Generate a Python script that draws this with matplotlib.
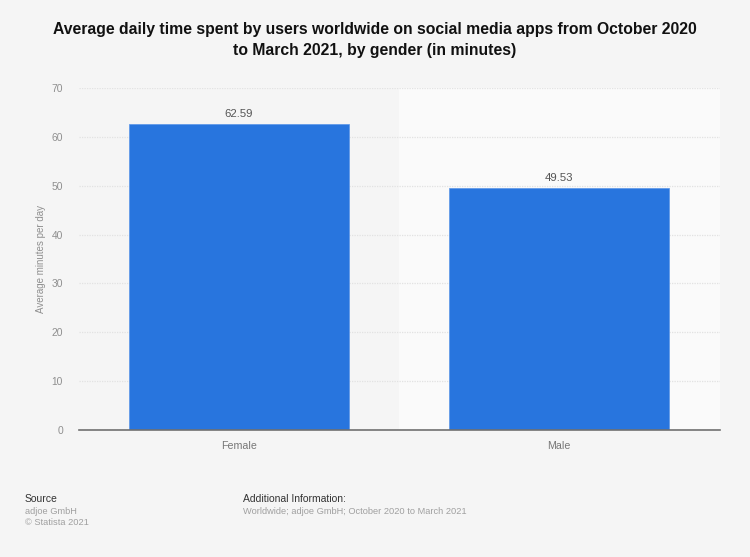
import matplotlib
matplotlib.use("Agg")
import matplotlib.pyplot as plt

categories = ["Female", "Male"]
minutes = [62.59, 49.53]
yticks = [0, 10, 20, 30, 40, 50, 60, 70]

TITLE = ("Average daily time spent by users worldwide on social media apps from October 2020\n"
         "to March 2021, by gender (in minutes)")

plt.rcParams["font.family"] = ["Liberation Sans", "DejaVu Sans"]

W, H = 750, 557
fig = plt.figure(figsize=(W / 100, H / 100), dpi=100, facecolor="#f5f5f5")
ax = fig.add_axes([79 / W, (H - 430) / H, 641 / W, 342 / H], facecolor="#f5f5f5")

positions = range(len(categories))
ax.set_xlim(-0.5, 1.503)
ax.set_ylim(0, 70)

# lighter band behind the second category
ax.axvspan(0.5, 1.503, color="#fafafa", lw=0, zorder=0)
ax.yaxis.grid(True, color="#e2e2e2", lw=0.9, ls=(0, (1, 1)), zorder=1)
ax.set_axisbelow(True)

ax.bar(positions, minutes, width=0.6875, color="#2875de", edgecolor="#5a95e8",
       linewidth=0.5, zorder=2)
for x, v in zip(positions, minutes):
    ax.annotate(f"{v:.2f}", (x, v), xytext=(0, 3.4), textcoords="offset points",
                ha="center", va="bottom", fontsize=8.2, color="#555555")

for side in ["top", "right", "left"]:
    ax.spines[side].set_visible(False)
ax.spines["bottom"].set_color("#707070")
ax.spines["bottom"].set_linewidth(1.2)
ax.spines["bottom"].set_zorder(3)

ax.set_xticks(list(positions), categories)
ax.set_yticks(yticks)
ax.tick_params(axis="x", length=0, pad=7.7, labelsize=7.7, labelcolor="#777777")
ax.tick_params(axis="y", length=0, pad=11.5, labelsize=7.4, labelcolor="#8f8f8f")
ax.set_ylabel("Average minutes per day", fontsize=7.0, color="#8f8f8f")
ax.yaxis.set_label_coords((46.5 - 79) / 641, 0.5)

fig.text(374.5 / W, 1 - 40 / H, TITLE, ha="center", va="center", fontsize=11.33,
         fontweight="bold", color="#111111", linespacing=1.55)

fig.text(25 / W, 1 - 499 / H, "Source", fontsize=7.5, color="#333333", va="center")
fig.text(25 / W, 1 - 511 / H, "adjoe GmbH", fontsize=6.7, color="#a0a0a0", va="center")
fig.text(25 / W, 1 - 522.5 / H, "© Statista 2021", fontsize=6.7, color="#a0a0a0", va="center")
fig.text(243 / W, 1 - 499 / H, "Additional Information:", fontsize=7.5, color="#333333", va="center")
fig.text(243 / W, 1 - 511 / H, "Worldwide; adjoe GmbH; October 2020 to March 2021",
         fontsize=6.7, color="#a0a0a0", va="center")

fig.savefig("out.png", dpi=100, facecolor=fig.get_facecolor())
